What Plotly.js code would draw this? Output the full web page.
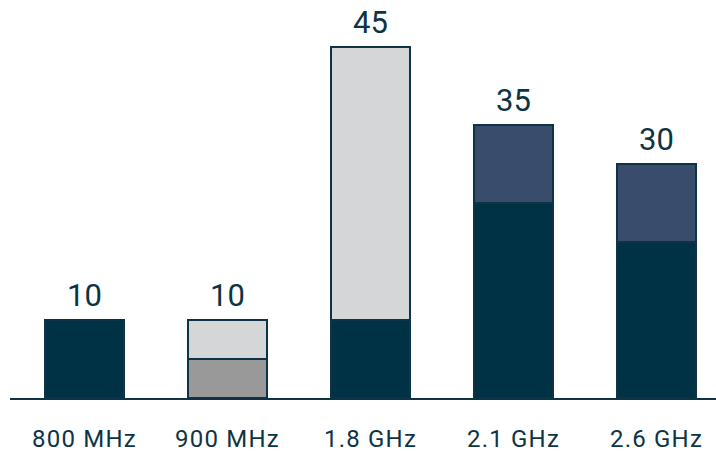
<!DOCTYPE html>
<html>
<head>
<meta charset="utf-8">
<script src="https://cdn.plot.ly/plotly-3.0.1.min.js"></script>
<style>html,body{margin:0;padding:0;background:#fff;}#chart{width:716px;height:451px;}
.xtick text{letter-spacing:1.2px;}</style>
</head>
<body>
<div id="chart"></div>
<script>
const categories = ["800 MHz", "900 MHz", "1.8 GHz", "2.1 GHz", "2.6 GHz"];
const darkSeries = [10, null, 10, 25, 20];
const midGraySeries = [null, 5, null, null, null];
const lightGraySeries = [null, 5, 35, null, null];
const blueSeries = [null, null, null, 10, 10];
const totals = [10, 10, 45, 35, 30];

const navy = "#0d3445";
const lineStyle = {color: navy, width: 2};

function barTrace(vals, color) {
  return {type: "bar", x: categories, y: vals, marker: {color: color, line: lineStyle}, hoverinfo: "none", showlegend: false};
}

const traces = [
  barTrace(darkSeries, "#003246"),
  barTrace(midGraySeries, "#999999"),
  barTrace(lightGraySeries, "#d5d6d8"),
  barTrace(blueSeries, "#3a4c6c")
];

const annotations = categories.map((c, i) => ({
  x: c, y: totals[i], xref: "x", yref: "y", text: String(totals[i]),
  showarrow: false, yanchor: "bottom", xanchor: "center", yshift: 4,
  font: {family: "Roboto, sans-serif", size: 31, color: navy}
}));

const layout = {
  width: 716, height: 451,
  margin: {l: 10, r: 0, t: 0, b: 53},
  paper_bgcolor: "#fff", plot_bgcolor: "#fff",
  barmode: "stack", bargap: 0.448,
  annotations: annotations,
  xaxis: {type: "category", range: [-0.521, 4.416], showline: true, linecolor: navy, linewidth: 2,
          showgrid: false, zeroline: false, ticks: "", ticklabelstandoff: 18,
          tickfont: {family: "Roboto, sans-serif", size: 24, color: navy}, fixedrange: true},
  yaxis: {range: [0, 51.03], visible: false, showgrid: false, zeroline: false, fixedrange: true}
};

Plotly.newPlot("chart", traces, layout, {displayModeBar: false, staticPlot: true});
</script>
</body>
</html>
